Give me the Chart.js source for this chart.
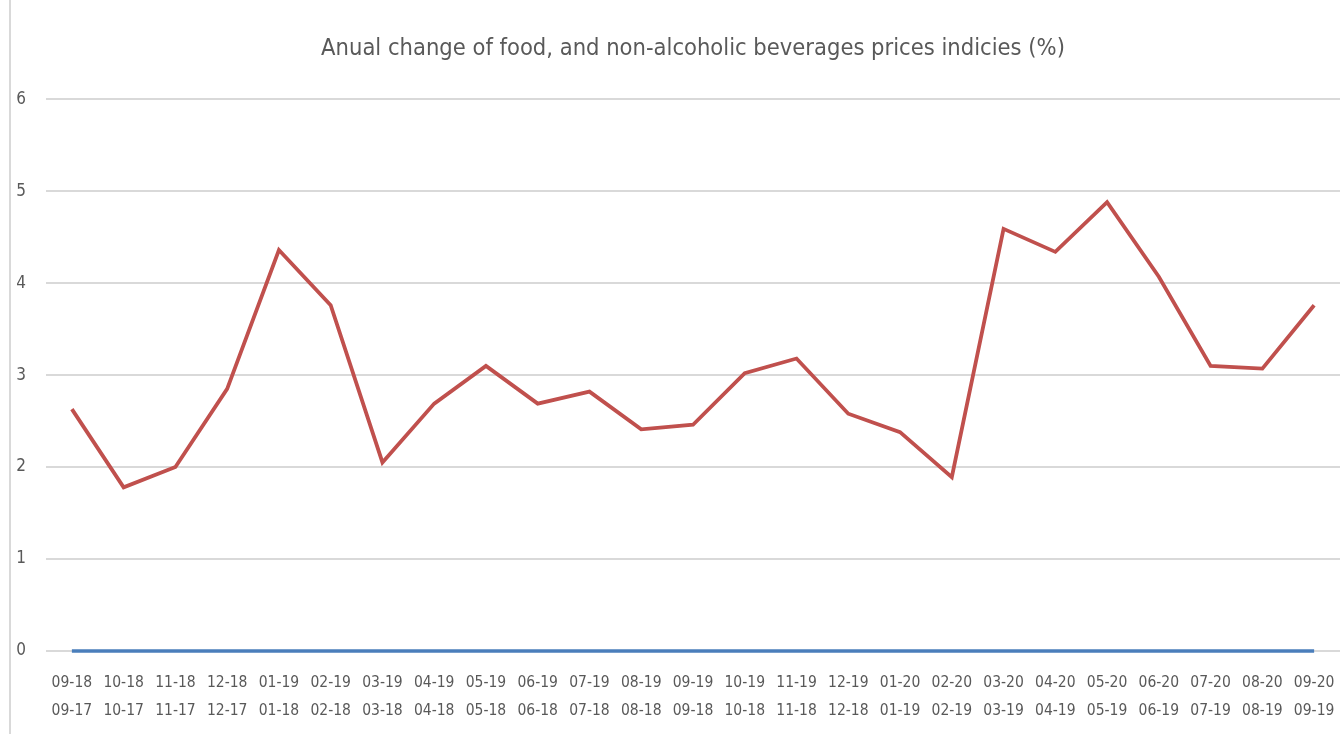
<!DOCTYPE html>
<html>
<head>
<meta charset="utf-8">
<script src="https://cdn.jsdelivr.net/npm/chart.js@4/dist/chart.umd.min.js"></script>
<style>
  html, body { margin: 0; padding: 0; background: #ffffff; }
  #wrap { position: relative; width: 1340px; height: 734px; }
  #frame { position: absolute; left: 9px; top: 0; width: 2px; height: 734px; background: #d9d9d9; }
  canvas { position: absolute; left: 0; top: 0; }
</style>
</head>
<body>
<div id="wrap">
  <div id="frame"></div>
  <canvas id="c" width="1340" height="734"></canvas>
</div>
<script>
const currentPeriod = ['09-18','10-18','11-18','12-18','01-19','02-19','03-19','04-19','05-19','06-19','07-19','08-19','09-19','10-19','11-19','12-19','01-20','02-20','03-20','04-20','05-20','06-20','07-20','08-20','09-20'];
const basePeriod = ['09-17','10-17','11-17','12-17','01-18','02-18','03-18','04-18','05-18','06-18','07-18','08-18','09-18','10-18','11-18','12-18','01-19','02-19','03-19','04-19','05-19','06-19','07-19','08-19','09-19'];
const foodChange = [2.63, 1.78, 2.00, 2.85, 4.36, 3.76, 2.05, 2.69, 3.10, 2.69, 2.82, 2.41, 2.46, 3.02, 3.18, 2.58, 2.38, 1.89, 4.59, 4.34, 4.88, 4.07, 3.10, 3.07, 3.76];
const baseline = [0,0,0,0,0,0,0,0,0,0,0,0,0,0,0,0,0,0,0,0,0,0,0,0,0];
const yTicks = [0,1,2,3,4,5,6];
const titleText = 'Anual change of food, and non-alcoholic beverages prices indicies (%)';

const labels = currentPeriod.map((c, i) => [c, basePeriod[i]]);
const FONT = "'Liberation Sans Narrow', 'DejaVu Sans Condensed', 'Liberation Sans', sans-serif";
const GREY = '#595959';

new Chart(document.getElementById('c'), {
  type: 'line',
  data: {
    labels: labels,
    datasets: [
      {
        label: 'Food and non-alcoholic beverages',
        data: foodChange,
        borderColor: '#c0504d',
        backgroundColor: '#c0504d',
        borderWidth: 3.8,
        pointRadius: 0,
        tension: 0,
        fill: false,
        clip: 8
      },
      {
        label: 'Baseline',
        data: baseline,
        borderColor: '#4a7ebb',
        backgroundColor: '#4a7ebb',
        borderWidth: 3.5,
        pointRadius: 0,
        tension: 0,
        fill: false,
        clip: 8
      }
    ]
  },
  options: {
    responsive: false,
    animation: false,
    devicePixelRatio: 1,
    layout: { padding: { left: 0, right: 0, top: 0, bottom: 0 } },
    plugins: {
      legend: { display: false },
      tooltip: { enabled: false },
      title: {
        display: true,
        fullSize: false,
        text: titleText,
        color: GREY,
        font: { family: FONT, size: 23.5, weight: 'normal', lineHeight: 1.2 },
        padding: { top: 35, bottom: 36 }
      }
    },
    scales: {
      x: {
        offset: true,
        grid: { display: false, drawTicks: false },
        border: { display: false },
        ticks: {
          color: GREY,
          font: { family: FONT, size: 15.5, lineHeight: 1.8 },
          padding: 18,
          maxRotation: 0,
          autoSkip: false
        },
        afterFit: (s) => { s.height = 83; s.paddingLeft = 0; s.paddingRight = 0; }
      },
      y: {
        min: 0,
        max: 6,
        afterBuildTicks: (s) => { s.ticks = yTicks.map(v => ({ value: v })); },
        grid: { color: '#d9d9d9', lineWidth: 2, drawTicks: false },
        border: { display: false },
        ticks: {
          color: GREY,
          font: { family: FONT, size: 17 },
          padding: 20
        },
        afterFit: (s) => { s.width = 46; }
      }
    }
  }
});
</script>
</body>
</html>
